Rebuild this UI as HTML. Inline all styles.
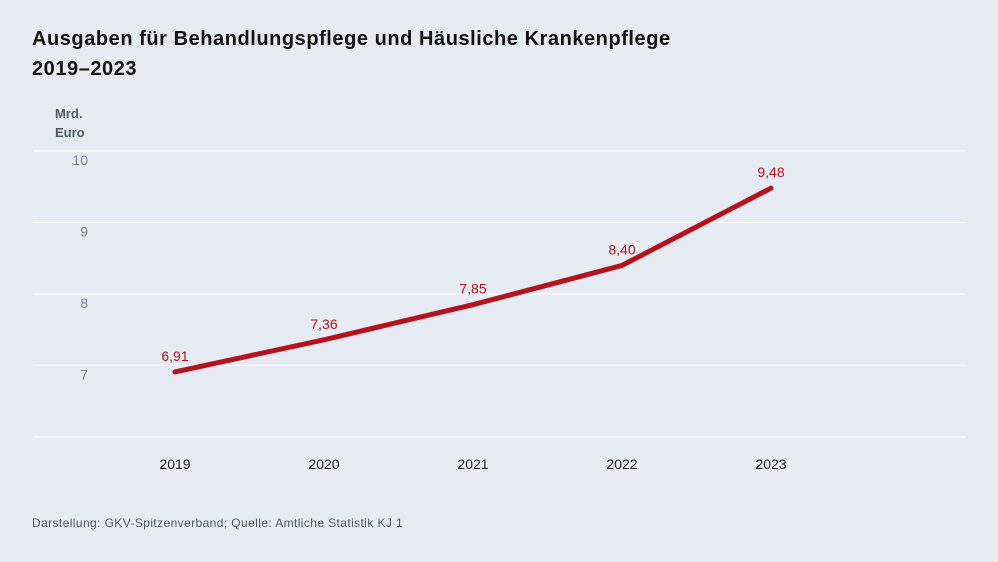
<!DOCTYPE html>
<html><head><meta charset="utf-8">
<style>
body{margin:0;background:#e7ebf3;font-family:"Liberation Sans",sans-serif;}
#c{position:relative;width:998px;height:562px;overflow:hidden;background:#e7ebf3;}
.t{position:absolute;left:32px;font-weight:bold;font-size:20px;color:#111;letter-spacing:0.55px;}
</style></head><body>
<div id="c">
<div class="t" style="top:28px">Ausgaben für Behandlungspflege und Häusliche Krankenpflege</div>
<div class="t" style="top:58px">2019–2023</div>
<div style="position:absolute;left:55px;top:104px;font-size:13px;font-weight:bold;color:#4a5a6a;line-height:19px">Mrd.<br>Euro</div>
<div style="position:absolute;left:32px;top:516px;font-size:12px;color:#4a5a6a;letter-spacing:0.4px">Darstellung: GKV-Spitzenverband; Quelle: Amtliche Statistik KJ 1</div>
<svg id="s" width="998" height="562" style="position:absolute;left:0;top:0"></svg>
</div>
<script>
const categories=["2019","2020","2021","2022","2023"];
const values=[6.91,7.36,7.85,8.40,9.48];
const valueLabels=["6,91","7,36","7,85","8,40","9,48"];
const yTicks=[6,7,8,9,10];
const yTickLabels=["","7","8","9","10"];
const ns="http://www.w3.org/2000/svg";
const svg=document.getElementById('s');
function y(v){return 437-(v-6)*71.5;}
function x(i){return 175+i*149;}
function mk(t,a,txt){const e=document.createElementNS(ns,t);for(const k in a)e.setAttribute(k,a[k]);if(txt!==undefined)e.textContent=txt;svg.appendChild(e);return e;}
yTicks.forEach((v,i)=>{
 const l=mk('line',{x1:33,x2:966,y1:y(v),y2:y(v),stroke:'#ffffff','stroke-width':1});
 
 
 if(yTickLabels[i]){const t=mk('text',{x:88,y:y(v)+14,'text-anchor':'end','font-size':14,fill:'#7a8594','font-family':'Liberation Sans'},yTickLabels[i]);
 
 }
});
categories.forEach((c,i)=>{
 const t=mk('text',{x:x(i),y:469,'text-anchor':'middle','font-size':14,fill:'#222','font-family':'Liberation Sans'},c);
 
 
});
const p=mk('polyline',{points:values.map((v,i)=>x(i)+','+y(v)).join(' '),fill:'none',stroke:'#b5121b','stroke-width':5,'stroke-linecap':'round','stroke-linejoin':'round'});


values.forEach((v,i)=>{
 const t=mk('text',{x:x(i),y:y(v)-11,'text-anchor':'middle','font-size':14,fill:'#b5121b','font-family':'Liberation Sans'},valueLabels[i]);
 
 
});
</script>
</body></html>
